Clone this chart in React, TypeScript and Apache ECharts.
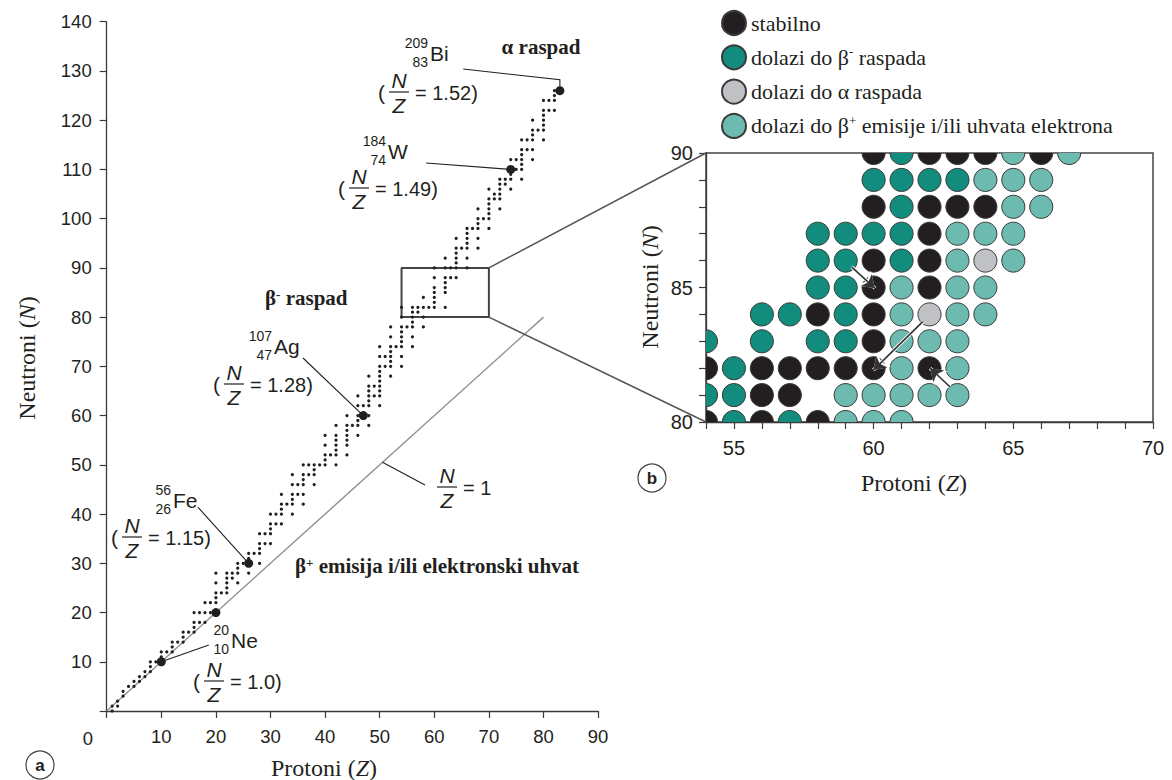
import React, { useEffect, useRef } from "react";
import * as echarts from "echarts";

// ---------- DATA ----------
// Stable nuclides: neutron numbers N for each proton number Z (index = Z)
const stableNeutrons: number[][] = [
  [], // 0
  [0, 1], // 1 H
  [1, 2], // 2 He
  [3, 4], // 3 Li
  [5], // 4 Be
  [5, 6], // 5 B
  [6, 7], // 6 C
  [7, 8], // 7 N
  [8, 9, 10], // 8 O
  [10], // 9 F
  [10, 11, 12], // 10 Ne
  [12], // 11 Na
  [12, 13, 14], // 12 Mg
  [14], // 13 Al
  [14, 15, 16], // 14 Si
  [16], // 15 P
  [16, 17, 18, 20], // 16 S
  [18, 20], // 17 Cl
  [18, 20, 22], // 18 Ar
  [20, 22], // 19 K
  [20, 22, 23, 24, 26, 28], // 20 Ca
  [24], // 21 Sc
  [24, 25, 26, 27, 28], // 22 Ti
  [27, 28], // 23 V
  [26, 28, 29, 30], // 24 Cr
  [30], // 25 Mn
  [28, 30, 31, 32], // 26 Fe
  [32], // 27 Co
  [30, 32, 33, 34, 36], // 28 Ni
  [34, 36], // 29 Cu
  [34, 36, 37, 38, 40], // 30 Zn
  [38, 40], // 31 Ga
  [38, 40, 41, 42, 44], // 32 Ge
  [42], // 33 As
  [40, 42, 43, 44, 46, 48], // 34 Se
  [44, 46], // 35 Br
  [42, 44, 46, 47, 48, 50], // 36 Kr
  [48, 50], // 37 Rb
  [46, 48, 49, 50], // 38 Sr
  [50], // 39 Y
  [50, 51, 52, 54, 56], // 40 Zr
  [52], // 41 Nb
  [50, 52, 53, 54, 55, 56, 58], // 42 Mo
  [], // 43 Tc
  [52, 54, 55, 56, 57, 58, 60], // 44 Ru
  [58], // 45 Rh
  [56, 58, 59, 60, 62, 64], // 46 Pd
  [60, 62], // 47 Ag
  [58, 60, 62, 63, 64, 65, 66, 68], // 48 Cd
  [64, 66], // 49 In
  [62, 64, 65, 66, 67, 68, 69, 70, 72, 74], // 50 Sn
  [70, 72], // 51 Sb
  [68, 70, 71, 72, 73, 74, 76, 78], // 52 Te
  [74], // 53 I
  [70, 72, 74, 75, 76, 77, 78, 80, 82], // 54 Xe
  [78], // 55 Cs
  [74, 76, 78, 79, 80, 81, 82], // 56 Ba
  [81, 82], // 57 La
  [78, 80, 82, 84], // 58 Ce
  [82], // 59 Pr
  [82, 83, 84, 85, 86, 88, 90], // 60 Nd
  [], // 61 Pm
  [82, 85, 86, 87, 88, 90, 92], // 62 Sm
  [88, 90], // 63 Eu
  [88, 90, 91, 92, 93, 94, 96], // 64 Gd
  [94], // 65 Tb
  [90, 92, 94, 95, 96, 97, 98], // 66 Dy
  [98], // 67 Ho
  [94, 96, 98, 99, 100, 102], // 68 Er
  [100], // 69 Tm
  [98, 100, 101, 102, 103, 104, 106], // 70 Yb
  [104, 105], // 71 Lu
  [102, 104, 105, 106, 107, 108], // 72 Hf
  [107, 108], // 73 Ta
  [106, 108, 109, 110, 112], // 74 W
  [110, 112], // 75 Re
  [108, 110, 111, 112, 113, 114, 116], // 76 Os
  [114, 116], // 77 Ir
  [112, 114, 116, 117, 118, 120], // 78 Pt
  [118], // 79 Au
  [116, 118, 119, 120, 121, 122, 124], // 80 Hg
  [122, 124], // 81 Tl
  [122, 124, 125, 126], // 82 Pb
  [126], // 83 Bi
];

// Highlighted nuclides (panel a)
const hlSymbols = ["Bi", "W", "Ag", "Fe", "Ne"];
const hlMass = ["209", "184", "107", "56", "20"];
const hlZ = [83, 74, 47, 26, 10];
const hlN = [126, 110, 60, 30, 10];
const hlRatio = ["1.52", "1.49", "1.28", "1.15", "1.0"];
const extraBigZ = [20];
const extraBigN = [20];

// Leader line start points (data units of panel a)
const leaderStartZ = [65.3, 58.5, 35.95, 16.7, 18.7];
const leaderStartN = [130.4, 111.3, 71.7, 41.4, 13.4];
const bendZ = 83;
const bendN = 128.2;
const unityLineEnd = [80, 80];
const unityLeaderFrom = [50.5, 50.5];
const unityLeaderTo = [58.3, 45.9];

// Zoomed region (panel b)
const zoomZ = [54, 55, 56, 57, 58, 59, 60, 61, 62, 63, 64, 65, 66, 67];
const zoomN = [90, 89, 88, 87, 86, 85, 84, 83, 82, 81, 80];
const zoomRows = [
  "......KGKKKLKL",
  "......GGGGLLL.",
  "......KGKKKLL.",
  "....GGGGKLLL..",
  "....GGKGKLAL..",
  "....GGKLKLL...",
  "..GGKGKLALL...",
  "G.G.GGKLLL....",
  "KGKKKKKLKL....",
  "GGKK.LLLLL....",
  "KGKGKLLL......",
];
const categoryCodes = ["K", "G", "A", "L"];
const categoryNames = [
  "stabilno",
  "dolazi do β- raspada",
  "dolazi do α raspada",
  "dolazi do β+ emisije i/ili uhvata elektrona",
];
const zoomRangeZ = [54, 70];
const zoomRangeN = [80, 90];

const arrowFrom = [
  [59.21, 85.77],
  [61.76, 83.73],
  [62.73, 81.31],
];
const arrowTo = [
  [60.05, 84.97],
  [59.99, 81.93],
  [62.02, 82.0],
];

// ---------- STYLE ----------
const SANS = "'Liberation Sans', Arial, Helvetica, sans-serif";
const SERIF = "'Liberation Serif', 'Times New Roman', serif";
const INK = "#231f20";
const AXIS = "#3a3a3a";
const categoryColors = ["#231f20", "#128c7c", "#c0c1c5", "#6dbab0"];

const labelPos = [
  [428, 53],
  [386, 151],
  [272, 346],
  [171, 500],
  [229, 640],
];
const fracPos = [
  [378, 92],
  [338, 188],
  [213, 384],
  [111, 537],
  [193, 681],
];

function txt(x: number, y: number, text: string, fontSize: number, extra: any = {}) {
  return {
    type: "text",
    x,
    y,
    silent: true,
    z: 30,
    style: {
      text,
      fontSize,
      fontFamily: SANS,
      fill: INK,
      align: "left",
      verticalAlign: "middle",
      ...extra,
    },
  };
}

function fraction(fx: number, fy: number, value: string, paren: boolean) {
  const els: any[] = [];
  if (paren) els.push(txt(fx, fy, "(", 21));
  els.push(txt(fx + 21, fy - 12, "N", 21, { align: "center", fontStyle: "italic" }));
  els.push({
    type: "line",
    silent: true,
    z: 30,
    shape: { x1: fx + 11, y1: fy, x2: fx + 31, y2: fy },
    style: { stroke: INK, lineWidth: 1.2 },
  });
  els.push(txt(fx + 21, fy + 13, "Z", 21, { align: "center", fontStyle: "italic" }));
  els.push(txt(fx + 37, fy + 1, "= " + value + (paren ? ")" : ""), 20));
  return els;
}

function buildGraphics(chart: any) {
  const g: any[] = [];
  // nuclide labels
  hlSymbols.forEach((s, i) => {
    const [x, y] = labelPos[i];
    g.push(txt(x, y - 10, hlMass[i], 14, { align: "right" }));
    g.push(txt(x, y + 9, String(hlZ[i]), 14, { align: "right" }));
    g.push(txt(x + 2, y, s, 21));
    const [fx, fy] = fracPos[i];
    g.push(...fraction(fx, fy, hlRatio[i], true));
  });
  g.push(...fraction(426, 487, "1", false));

  // region labels
  g.push(
    txt(541, 47, "α raspad", 21, {
      align: "center",
      fontFamily: SERIF,
      fontWeight: "bold",
    })
  );
  g.push(
    txt(265, 298, "β{sup|-} raspad", 21, {
      fontFamily: SERIF,
      fontWeight: "bold",
      rich: {
        sup: { fontSize: 13, fontFamily: SERIF, fontWeight: "bold", fill: INK, verticalAlign: "top" },
      },
    })
  );
  g.push(
    txt(295, 566, "β{sup|+} emisija i/ili elektronski uhvat", 21, {
      fontFamily: SERIF,
      fontWeight: "bold",
      rich: {
        sup: { fontSize: 13, fontFamily: SERIF, fontWeight: "bold", fill: INK, verticalAlign: "top" },
      },
    })
  );

  // axis names
  const italicRich = { i: { fontStyle: "italic", fontSize: 24, fontFamily: SERIF, fill: INK } };
  g.push({
    ...txt(27, 358, "Neutroni ({i|N})", 24, { align: "center", fontFamily: SERIF, rich: italicRich }),
    rotation: Math.PI / 2,
  });
  g.push(txt(324, 768, "Protoni ({i|Z})", 24, { align: "center", fontFamily: SERIF, rich: italicRich }));
  g.push({
    ...txt(650, 287, "Neutroni ({i|N})", 24, { align: "center", fontFamily: SERIF, rich: italicRich }),
    rotation: Math.PI / 2,
  });
  g.push(txt(914, 483, "Protoni ({i|Z})", 24, { align: "center", fontFamily: SERIF, rich: italicRich }));

  // shared origin label
  g.push(txt(88, 738, "0", 18.5, { align: "center" }));

  // panel tags
  [
    ["a", 40, 765],
    ["b", 652, 478],
  ].forEach(([t, x, y]: any) => {
    g.push({
      type: "circle",
      silent: true,
      shape: { cx: x, cy: y, r: 14 },
      style: { fill: "none", stroke: "#444", lineWidth: 1.2 },
    });
    g.push(txt(x, y, t, 17, { align: "center", fontWeight: "bold" }));
  });

  // connectors between the box in panel a and panel b
  const a1 = chart.convertToPixel({ gridIndex: 0 }, [zoomRangeZ[1], zoomRangeN[1]]);
  const a2 = chart.convertToPixel({ gridIndex: 0 }, [zoomRangeZ[1], zoomRangeN[0]]);
  const b1 = chart.convertToPixel({ gridIndex: 1 }, [zoomRangeZ[0], zoomRangeN[1]]);
  const b2 = chart.convertToPixel({ gridIndex: 1 }, [zoomRangeZ[0], zoomRangeN[0]]);
  [
    [a1, b1],
    [a2, b2],
  ].forEach(([p, q]) => {
    g.push({
      type: "line",
      silent: true,
      z: 5,
      shape: { x1: p[0], y1: p[1], x2: q[0], y2: q[1] },
      style: { stroke: "#555", lineWidth: 1.5 },
    });
  });
  return g;
}

function buildOption() {
  const stablePts: number[][] = [];
  stableNeutrons.forEach((ns, z) => ns.forEach((n) => stablePts.push([z, n])));
  const bigPts = hlZ.map((z, i) => [z, hlN[i]]).concat(extraBigZ.map((z, i) => [z, extraBigN[i]]));

  const leaderData = hlZ.map((z, i) => {
    if (i === 0) {
      return {
        coords: [
          [leaderStartZ[i], leaderStartN[i]],
          [bendZ, bendN],
          [z, hlN[i]],
        ],
      };
    }
    return {
      coords: [
        [leaderStartZ[i], leaderStartN[i]],
        [z, hlN[i]],
      ],
    };
  });
  leaderData.push({ coords: [unityLeaderFrom, unityLeaderTo] });

  const catPts: number[][][] = categoryCodes.map(() => []);
  zoomRows.forEach((row, r) => {
    row.split("").forEach((ch, c) => {
      const k = categoryCodes.indexOf(ch);
      if (k >= 0) catPts[k].push([zoomZ[c], zoomN[r]]);
    });
  });

  const boxPts = [
    [zoomRangeZ[0], zoomRangeN[0]],
    [zoomRangeZ[1], zoomRangeN[0]],
    [zoomRangeZ[1], zoomRangeN[1]],
    [zoomRangeZ[0], zoomRangeN[1]],
    [zoomRangeZ[0], zoomRangeN[0]],
  ];

  const arrowData = arrowFrom.map((f, i) => ({ coords: [f, arrowTo[i]] }));

  const axisCommon = {
    type: "value",
    splitLine: { show: false },
    axisLine: { show: true, onZero: false, lineStyle: { color: AXIS, width: 1.3 } },
    axisTick: { show: true, length: 7, lineStyle: { color: AXIS, width: 1.2 } },
  };

  return {
    animation: false,
    backgroundColor: "#ffffff",
    grid: [
      { left: 106.7, top: 21.7, width: 491.4, height: 689.3 },
      {
        left: 706,
        top: 153,
        width: 447,
        height: 269,
        show: true,
        borderColor: "#444",
        borderWidth: 1.5,
        backgroundColor: "transparent",
      },
    ],
    xAxis: [
      {
        ...axisCommon,
        gridIndex: 0,
        min: 0,
        max: 90,
        interval: 10,
        axisLabel: {
          fontSize: 18.5,
          fontFamily: SANS,
          color: INK,
          margin: 16,
          formatter: (v: number) => (v === 0 ? "" : String(v)),
        },
      },
      {
        ...axisCommon,
        gridIndex: 1,
        min: 54,
        max: 70,
        interval: 1,
        axisLabel: {
          fontSize: 20,
          fontFamily: SANS,
          color: INK,
          margin: 16,
          showMinLabel: true,
          showMaxLabel: true,
          formatter: (v: number) => (v % 5 === 0 ? String(v) : ""),
        },
      },
    ],
    yAxis: [
      {
        ...axisCommon,
        gridIndex: 0,
        min: 0,
        max: 140,
        interval: 10,
        axisLabel: {
          fontSize: 18.5,
          fontFamily: SANS,
          color: INK,
          margin: 15,
          formatter: (v: number) => (v === 0 ? "" : String(v)),
        },
      },
      {
        ...axisCommon,
        gridIndex: 1,
        min: 80,
        max: 90,
        interval: 1,
        axisLabel: {
          fontSize: 20,
          fontFamily: SANS,
          color: INK,
          margin: 13,
          showMinLabel: true,
          showMaxLabel: true,
          formatter: (v: number) => (v % 5 === 0 ? String(v) : ""),
        },
      },
    ],
    legend: {
      orient: "vertical",
      left: 721,
      top: 10,
      padding: 0,
      itemWidth: 24,
      itemHeight: 24,
      itemGap: 8.3,
      icon: "circle",
      selectedMode: false,
      data: categoryNames,
      formatter: (name: string) => name.replace("β-", "β{sup|-}").replace("β+", "β{sup|+}"),
      textStyle: {
        fontFamily: SERIF,
        fontSize: 22,
        color: INK,
        lineHeight: 24,
        rich: {
          sup: { fontFamily: SERIF, fontSize: 13, color: INK, verticalAlign: "top", lineHeight: 24 },
        },
      },
    },
    series: [
      {
        name: "N=Z",
        type: "line",
        xAxisIndex: 0,
        yAxisIndex: 0,
        data: [[0, 0], unityLineEnd],
        showSymbol: false,
        silent: true,
        lineStyle: { color: "#8f8f8f", width: 1.4 },
        z: 2,
      },
      {
        name: "box",
        type: "line",
        xAxisIndex: 0,
        yAxisIndex: 0,
        data: boxPts,
        showSymbol: false,
        silent: true,
        lineStyle: { color: "#444", width: 2 },
        z: 3,
      },
      {
        name: "leaders",
        type: "lines",
        coordinateSystem: "cartesian2d",
        xAxisIndex: 0,
        yAxisIndex: 0,
        polyline: true,
        silent: true,
        data: leaderData,
        lineStyle: { color: INK, width: 1.1, opacity: 1 },
        z: 4,
      },
      {
        name: "stable",
        type: "scatter",
        xAxisIndex: 0,
        yAxisIndex: 0,
        data: stablePts,
        symbolSize: 3.2,
        silent: true,
        itemStyle: { color: INK, opacity: 1 },
        z: 5,
      },
      {
        name: "highlight",
        type: "scatter",
        xAxisIndex: 0,
        yAxisIndex: 0,
        data: bigPts,
        symbolSize: 9,
        silent: true,
        itemStyle: { color: INK, opacity: 1 },
        z: 6,
      },
      ...categoryNames.map((name, k) => ({
        name,
        type: "custom",
        xAxisIndex: 1,
        yAxisIndex: 1,
        clip: true,
        silent: true,
        data: catPts[k],
        encode: { x: 0, y: 1 },
        itemStyle: { color: categoryColors[k], borderColor: "#3a3a3a", borderWidth: 1 },
        renderItem: (params: any, api: any) => {
          const c = api.coord([api.value(0), api.value(1)]);
          const s = api.size([1, 1]);
          const r = Math.min(s[0], s[1]) * 0.43;
          return {
            type: "circle",
            shape: { cx: c[0], cy: c[1], r },
            style: { fill: categoryColors[k], stroke: "#3a3a3a", lineWidth: 1 },
          };
        },
        z: 3,
      })),
      {
        name: "arrowsHalo",
        type: "lines",
        coordinateSystem: "cartesian2d",
        xAxisIndex: 1,
        yAxisIndex: 1,
        silent: true,
        data: arrowData,
        symbol: ["none", "arrow"],
        symbolSize: 15,
        lineStyle: { color: "#ffffff", width: 3.5, opacity: 1 },
        z: 7,
      },
      {
        name: "arrows",
        type: "lines",
        coordinateSystem: "cartesian2d",
        xAxisIndex: 1,
        yAxisIndex: 1,
        silent: true,
        data: arrowData,
        symbol: ["none", "arrow"],
        symbolSize: 12,
        lineStyle: { color: "#333333", width: 1.6, opacity: 1 },
        z: 8,
      },
    ],
  };
}

export default function App() {
  const ref = useRef<HTMLDivElement>(null);
  useEffect(() => {
    if (!ref.current) return;
    const chart = echarts.init(ref.current, null, { renderer: "svg" });
    chart.setOption(buildOption() as any);
    chart.setOption({ graphic: buildGraphics(chart) } as any);
    return () => chart.dispose();
  }, []);
  return (
    <div
      ref={ref}
      style={{ position: "fixed", left: 0, top: 0, width: 1172, height: 780, background: "#fff" }}
    />
  );
}
